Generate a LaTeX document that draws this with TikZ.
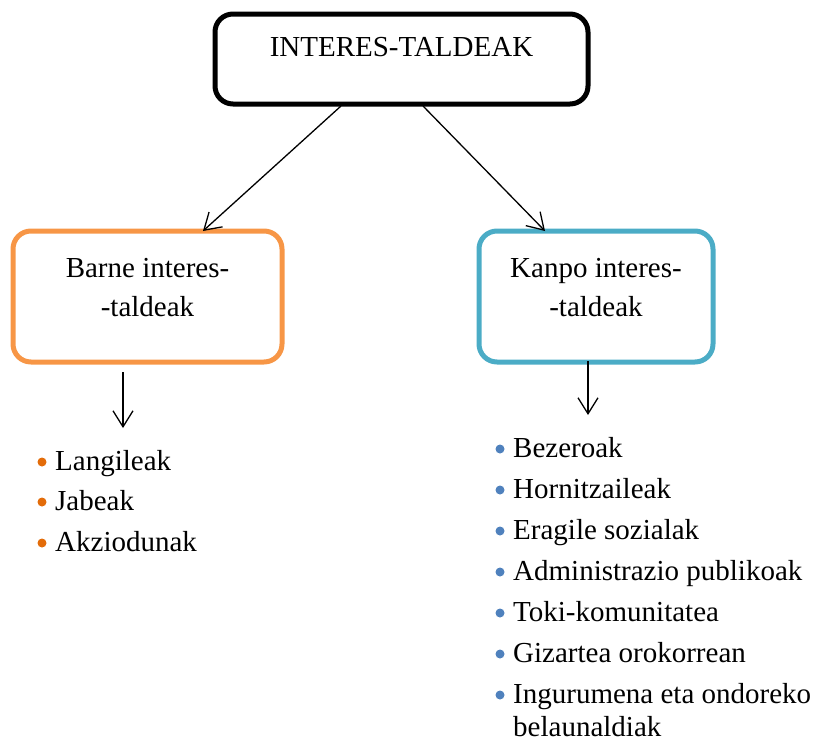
\documentclass[tikz,border=0pt]{standalone}
\usepackage{fontspec}
\setmainfont{Liberation Serif}
\usetikzlibrary{arrows.meta}
\definecolor{boxorange}{HTML}{F79646}
\definecolor{boxblue}{HTML}{4BACC6}
\definecolor{dotorange}{HTML}{E36C09}
\definecolor{dotblue}{HTML}{4F81BD}
\begin{document}
\begin{tikzpicture}[x=1pt,y=-1pt,
  txt/.style={font=\fontsize{29}{39}\selectfont, inner sep=0pt, align=center},
  item/.style={font=\fontsize{29}{33}\selectfont, inner sep=0pt, anchor=base west},
  rbox/.style={draw, rounded corners=18pt, line width=5pt, inner sep=0pt},
  arr/.style={line width=1.3pt, -{Straight Barb[length=16pt,width=20pt,line width=1.3pt]}},
  dot/.style={circle, inner sep=0pt, minimum size=9pt}
]
\useasboundingbox (0,0) rectangle (814,742);
% boxes
\node[rbox, minimum width=373pt, minimum height=90pt] (top) at (401.5,59) {};
\node[txt] (toptext) at (401.5,47) {INTERES-TALDEAK};
\node[rbox, draw=boxorange, minimum width=269pt, minimum height=131pt] (left) at (147.5,296.5) {};
\node[txt] (lefttext) at (147.5,288) {Barne interes-\\-taldeak};
\node[rbox, draw=boxblue, minimum width=234pt, minimum height=131pt] (right) at (596,296.5) {};
\node[txt] (righttext) at (596,288) {Kanpo interes-\\-taldeak};
% connector coordinates
\coordinate (tl) at (341,106);
\coordinate (tr) at (423,106);
\coordinate (lt) at (203,231);
\coordinate (rt) at (545,231);
\coordinate (ls) at (123,372);
\coordinate (le) at (123,428);
\coordinate (rs) at (588,361);
\coordinate (re) at (588,415);
\draw[arr] (tl) -- (lt);
\draw[arr] (tr) -- (rt);
\draw[arr] (ls) -- (le);
\draw[arr] (rs) -- (re);
% left list
\node[item] (l1) at (55,470) {Langileak};
\node[item] (l2) at (55,510) {Jabeak};
\node[item] (l3) at (55,551) {Akziodunak};
\foreach \n in {l1,l2,l3}{\node[dot, fill=dotorange] at ([xshift=-13pt,yshift=8pt]\n.base west) {};}
% right list
\node[item] (r1) at (513,457) {Bezeroak};
\node[item] (r2) at (513,498) {Hornitzaileak};
\node[item] (r3) at (513,539) {Eragile sozialak};
\node[item] (r4) at (513,580) {Administrazio publikoak};
\node[item] (r5) at (513,621) {Toki-komunitatea};
\node[item] (r6) at (513,662) {Gizartea orokorrean};
\node[item] (r7) at (513,703) {Ingurumena eta ondoreko};
\node[item] (r8) at (513,736) {belaunaldiak};
\foreach \n in {r1,r2,r3,r4,r5,r6,r7}{\node[dot, fill=dotblue] at ([xshift=-13pt,yshift=8pt]\n.base west) {};}
\end{tikzpicture}
\end{document}
